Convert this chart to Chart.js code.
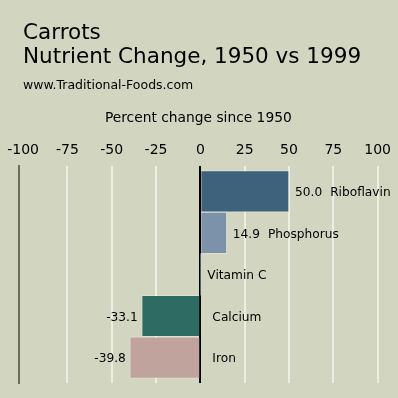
<!DOCTYPE html>
<html><head><meta charset="utf-8">
<script src="https://cdn.jsdelivr.net/npm/chart.js@4/dist/chart.umd.min.js"></script>
<style>html,body{margin:0;padding:0;background:#d2d6c1;} canvas{display:block;}</style>
</head><body>
<canvas id="c" width="398" height="398"></canvas>
<script>
const categories = ['Riboflavin', 'Phosphorus', 'Vitamin C', 'Calcium', 'Iron'];
const changes = [50.0, 14.9, 0, -33.1, -39.8];
const barColors = ['#3e627c', '#7c92aa', '#7c92aa', '#2e6b62', '#c0a39c'];
const xTickValues = [-100, -75, -50, -25, 0, 25, 50, 75, 100];
const titleLines = ['Carrots', 'Nutrient Change, 1950 vs 1999'];
const sourceText = 'www.Traditional-Foods.com';
const axisTitle = 'Percent change since 1950';

const FONT = "'DejaVu Sans', sans-serif";
const BG = '#d2d6c1';

const bgPlugin = {
  id: 'bg',
  beforeDraw(chart) {
    const ctx = chart.ctx;
    ctx.save();
    ctx.fillStyle = BG;
    ctx.fillRect(0, 0, chart.width, chart.height);
    ctx.restore();
  }
};

const headerPlugin = {
  id: 'header',
  afterDraw(chart) {
    const ctx = chart.ctx;
    ctx.save();
    ctx.fillStyle = '#000';
    ctx.textBaseline = 'alphabetic';
    ctx.textAlign = 'left';
    ctx.font = '21.5px ' + FONT;
    ctx.fillText(titleLines[0], 23, 39);
    ctx.fillText(titleLines[1], 23, 63);
    ctx.font = '12.5px ' + FONT;
    ctx.fillText(sourceText, 23, 89);
    ctx.restore();
  }
};

const labelPlugin = {
  id: 'barLabels',
  afterDatasetsDraw(chart) {
    const ctx = chart.ctx, xs = chart.scales.x, ys = chart.scales.y;
    ctx.save();
    ctx.font = '12.2px ' + FONT;
    ctx.fillStyle = '#000';
    ctx.textBaseline = 'middle';
    const x0 = xs.getPixelForValue(0);
    changes.forEach((v, i) => {
      const y = ys.getPixelForValue(i) + 1.5;
      const xv = xs.getPixelForValue(v);
      const txt = v.toFixed(1);
      if (v > 0) {
        ctx.textAlign = 'left';
        ctx.fillText(txt, xv + 6, y);
        const w = ctx.measureText(txt).width;
        ctx.fillText(categories[i], xv + 6 + w + 8, y);
      } else if (v < 0) {
        ctx.textAlign = 'right';
        ctx.fillText(txt, xv - 4, y);
        ctx.textAlign = 'left';
        ctx.fillText(categories[i], x0 + 12, y);
      } else {
        ctx.textAlign = 'left';
        ctx.fillText(categories[i], x0 + 7, y);
      }
    });
    ctx.restore();
  }
};

const setXTicks = s => { s.ticks = xTickValues.map(v => ({ value: v })); };

new Chart(document.getElementById('c'), {
  type: 'bar',
  data: {
    datasets: [{
      data: changes.map((v, i) => ({ x: v, y: i })),
      backgroundColor: barColors,
      borderColor: 'rgba(255,255,255,0.22)',
      borderWidth: c => (changes[c.dataIndex] === 0 ? 0 : 1),
      barPercentage: 1,
      categoryPercentage: 1
    }]
  },
  options: {
    indexAxis: 'y',
    responsive: false,
    devicePixelRatio: 1,
    animation: false,
    layout: { padding: { left: 18, right: 20, top: 110.3, bottom: 15 } },
    plugins: { legend: { display: false }, tooltip: { enabled: false }, title: { display: false } },
    scales: {
      x: {
        type: 'linear', position: 'top', min: -102.3, max: 100,
        afterBuildTicks: setXTicks,
        ticks: { autoSkip: false, padding: 7, color: '#000', maxRotation: 0, font: { family: FONT, size: 14 } },
        grid: {
          drawTicks: false, lineWidth: 2,
          color: c => (c.tick && (c.tick.value === -100 || c.tick.value === 0)) ? 'rgba(0,0,0,0)' : '#eeefe3'
        },
        border: { display: false },
        title: { display: true, text: axisTitle, color: '#000', font: { family: FONT, size: 13.8 }, padding: { top: 0, bottom: 8.3 } }
      },
      x2: {
        type: 'linear', position: 'top', min: -102.3, max: 100, z: 1,
        afterBuildTicks: setXTicks,
        ticks: { display: false },
        grid: {
          drawTicks: false, lineWidth: 2,
          color: c => (c.tick && c.tick.value === 0) ? '#000' : 'rgba(0,0,0,0)'
        },
        border: { display: false }
      },
      y: {
        type: 'linear', min: -0.613, max: 4.613, reverse: true, offset: false,
        afterBuildTicks: s => { s.ticks = categories.map((_, i) => ({ value: i })); },
        ticks: { display: false },
        grid: { display: false, drawTicks: false, offset: false },
        border: { display: true, color: '#6b6b5e', width: 2 }
      }
    }
  },
  plugins: [bgPlugin, headerPlugin, labelPlugin]
});
</script>
</body></html>
